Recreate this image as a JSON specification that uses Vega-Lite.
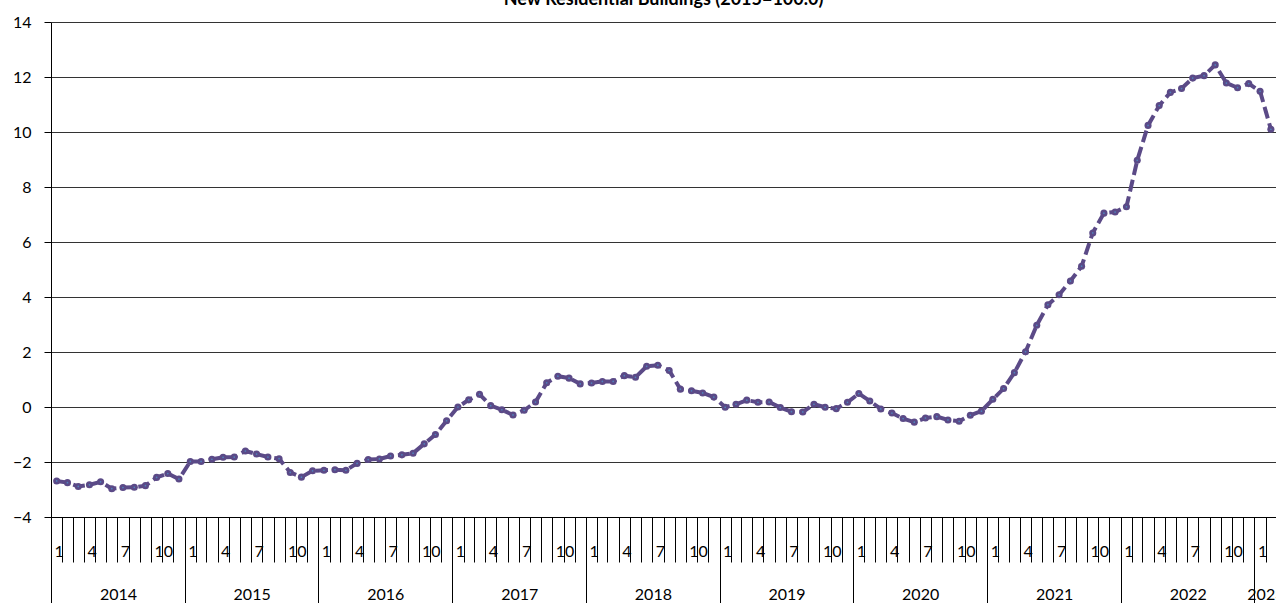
{
  "$schema": "https://vega.github.io/schema/vega-lite/v6.json",
  "width": 1225,
  "height": 495,
  "autosize": {"type": "none"},
  "padding": {"left": 51, "top": 22, "right": 0, "bottom": 86},
  "background": "white",
  "title": {"text": "New Residential Buildings (2015=100.0)", "font": "Lato", "fontSize": 18, "fontWeight": "bold", "color": "black", "anchor": "middle", "baseline": "alphabetic", "offset": 8, "dy": 17},
  "config": {"view": {"stroke": null}, "font": "Lato"},
  "data": {"values": [
    {"date": "2014-01", "v": -2.69}, {"date": "2014-02", "v": -2.75}, {"date": "2014-03", "v": -2.89}, {"date": "2014-04", "v": -2.83}, {"date": "2014-05", "v": -2.72}, {"date": "2014-06", "v": -2.97}, {"date": "2014-07", "v": -2.93}, {"date": "2014-08", "v": -2.92}, {"date": "2014-09", "v": -2.86}, {"date": "2014-10", "v": -2.56}, {"date": "2014-11", "v": -2.42}, {"date": "2014-12", "v": -2.62},
    {"date": "2015-01", "v": -1.98}, {"date": "2015-02", "v": -1.98}, {"date": "2015-03", "v": -1.90}, {"date": "2015-04", "v": -1.83}, {"date": "2015-05", "v": -1.82}, {"date": "2015-06", "v": -1.60}, {"date": "2015-07", "v": -1.71}, {"date": "2015-08", "v": -1.82}, {"date": "2015-09", "v": -1.88}, {"date": "2015-10", "v": -2.38}, {"date": "2015-11", "v": -2.55}, {"date": "2015-12", "v": -2.32},
    {"date": "2016-01", "v": -2.30}, {"date": "2016-02", "v": -2.28}, {"date": "2016-03", "v": -2.30}, {"date": "2016-04", "v": -2.05}, {"date": "2016-05", "v": -1.91}, {"date": "2016-06", "v": -1.89}, {"date": "2016-07", "v": -1.78}, {"date": "2016-08", "v": -1.74}, {"date": "2016-09", "v": -1.68}, {"date": "2016-10", "v": -1.34}, {"date": "2016-11", "v": -1.00}, {"date": "2016-12", "v": -0.50},
    {"date": "2017-01", "v": 0.00}, {"date": "2017-02", "v": 0.26}, {"date": "2017-03", "v": 0.46}, {"date": "2017-04", "v": 0.05}, {"date": "2017-05", "v": -0.10}, {"date": "2017-06", "v": -0.29}, {"date": "2017-07", "v": -0.12}, {"date": "2017-08", "v": 0.18}, {"date": "2017-09", "v": 0.88}, {"date": "2017-10", "v": 1.12}, {"date": "2017-11", "v": 1.05}, {"date": "2017-12", "v": 0.84},
    {"date": "2018-01", "v": 0.87}, {"date": "2018-02", "v": 0.93}, {"date": "2018-03", "v": 0.93}, {"date": "2018-04", "v": 1.14}, {"date": "2018-05", "v": 1.08}, {"date": "2018-06", "v": 1.48}, {"date": "2018-07", "v": 1.52}, {"date": "2018-08", "v": 1.33}, {"date": "2018-09", "v": 0.65}, {"date": "2018-10", "v": 0.59}, {"date": "2018-11", "v": 0.51}, {"date": "2018-12", "v": 0.36},
    {"date": "2019-01", "v": -0.01}, {"date": "2019-02", "v": 0.10}, {"date": "2019-03", "v": 0.25}, {"date": "2019-04", "v": 0.17}, {"date": "2019-05", "v": 0.18}, {"date": "2019-06", "v": -0.02}, {"date": "2019-07", "v": -0.17}, {"date": "2019-08", "v": -0.18}, {"date": "2019-09", "v": 0.10}, {"date": "2019-10", "v": -0.01}, {"date": "2019-11", "v": -0.06}, {"date": "2019-12", "v": 0.17},
    {"date": "2020-01", "v": 0.49}, {"date": "2020-02", "v": 0.22}, {"date": "2020-03", "v": -0.07}, {"date": "2020-04", "v": -0.22}, {"date": "2020-05", "v": -0.42}, {"date": "2020-06", "v": -0.55}, {"date": "2020-07", "v": -0.40}, {"date": "2020-08", "v": -0.35}, {"date": "2020-09", "v": -0.47}, {"date": "2020-10", "v": -0.52}, {"date": "2020-11", "v": -0.30}, {"date": "2020-12", "v": -0.15},
    {"date": "2021-01", "v": 0.28}, {"date": "2021-02", "v": 0.67}, {"date": "2021-03", "v": 1.25}, {"date": "2021-04", "v": 2.01}, {"date": "2021-05", "v": 2.97}, {"date": "2021-06", "v": 3.72}, {"date": "2021-07", "v": 4.08}, {"date": "2021-08", "v": 4.58}, {"date": "2021-09", "v": 5.12}, {"date": "2021-10", "v": 6.33}, {"date": "2021-11", "v": 7.05}, {"date": "2021-12", "v": 7.09},
    {"date": "2022-01", "v": 7.28}, {"date": "2022-02", "v": 8.97}, {"date": "2022-03", "v": 10.24}, {"date": "2022-04", "v": 10.96}, {"date": "2022-05", "v": 11.44}, {"date": "2022-06", "v": 11.58}, {"date": "2022-07", "v": 11.96}, {"date": "2022-08", "v": 12.05}, {"date": "2022-09", "v": 12.44}, {"date": "2022-10", "v": 11.78}, {"date": "2022-11", "v": 11.61}, {"date": "2022-12", "v": 11.76},
    {"date": "2023-01", "v": 11.48}, {"date": "2023-02", "v": 10.10}
  ]},
  "encoding": {
    "y": {
      "field": "v", "type": "quantitative",
      "scale": {"domain": [-4, 14], "nice": false, "zero": false},
      "axis": {
        "title": null, "values": [-4, -2, 0, 2, 4, 6, 8, 10, 12, 14],
        "grid": true, "gridColor": "#333333", "gridWidth": 1, "gridOpacity": 1,
        "domainColor": "#000000", "domainWidth": 1, "tickColor": "#000000", "tickSize": 7, "tickWidth": 1,
        "labelPadding": 13, "labelFontSize": 16, "labelFont": "Lato", "labelColor": "#000000",
        "labelFlush": false, "labelOverlap": false, "labelBaseline": "middle"
      }
    }
  },
  "layer": [
    {
      "mark": {"type": "line", "color": "#5b4a87", "strokeWidth": 4, "strokeDash": [12, 5]},
      "encoding": {
        "x": {
          "field": "date", "type": "temporal", "timeUnit": "utcyearmonth", "bandPosition": 0.5,
          "scale": {"type": "utc", "domain": [{"year": 2014, "month": 1, "date": 1, "utc": true}, {"year": 2023, "month": 3, "date": 1, "utc": true}]},
          "axis": {
            "orient": "bottom",
            "title": null, "tickCount": {"interval": "month", "step": 1}, "tickSize": 45, "tickColor": "#000000", "tickWidth": 1,
            "domainColor": "#000000", "grid": false,
            "labelExpr": "utcmonth(datum.value) % 3 == 0 ? '' + (utcmonth(datum.value) + 1) : ''",
            "labelAlign": "left", "labelBaseline": "middle", "labelOffset": 3, "labelPadding": -11,
            "labelFontSize": 16, "labelFont": "Lato", "labelColor": "#000000",
            "labelOverlap": false, "labelFlush": false, "labelBound": false
          }
        }
      }
    },
    {
      "mark": {"type": "point", "filled": true, "shape": "circle", "size": 50, "color": "#5b4a87", "opacity": 1},
      "encoding": {
        "x": {
          "field": "date", "type": "temporal", "timeUnit": "utcyearmonth", "bandPosition": 0.5,
          "axis": {
            "orient": "bottom",
            "title": null, "tickCount": {"interval": "year", "step": 1}, "tickSize": 86, "tickColor": "#000000", "tickWidth": 1,
            "domain": false, "grid": false,
            "labelExpr": "'' + utcyear(datum.value)",
            "labelAlign": "center", "labelBaseline": "middle",
            "labelOffset": {"condition": {"test": "utcyear(datum.value) == 2023", "value": 11}, "value": 67},
            "labelPadding": -9,
            "labelFontSize": 16, "labelFont": "Lato", "labelColor": "#000000",
            "labelOverlap": false, "labelFlush": false, "labelBound": false
          }
        }
      }
    },
    {
      "mark": {"type": "point", "filled": true, "shape": "circle", "size": 3, "color": "#4f81bd", "opacity": 1},
      "encoding": {
        "x": {"field": "date", "type": "temporal", "timeUnit": "utcyearmonth", "bandPosition": 0.5, "axis": null}
      }
    }
  ],
  "resolve": {"axis": {"x": "independent"}}
}
